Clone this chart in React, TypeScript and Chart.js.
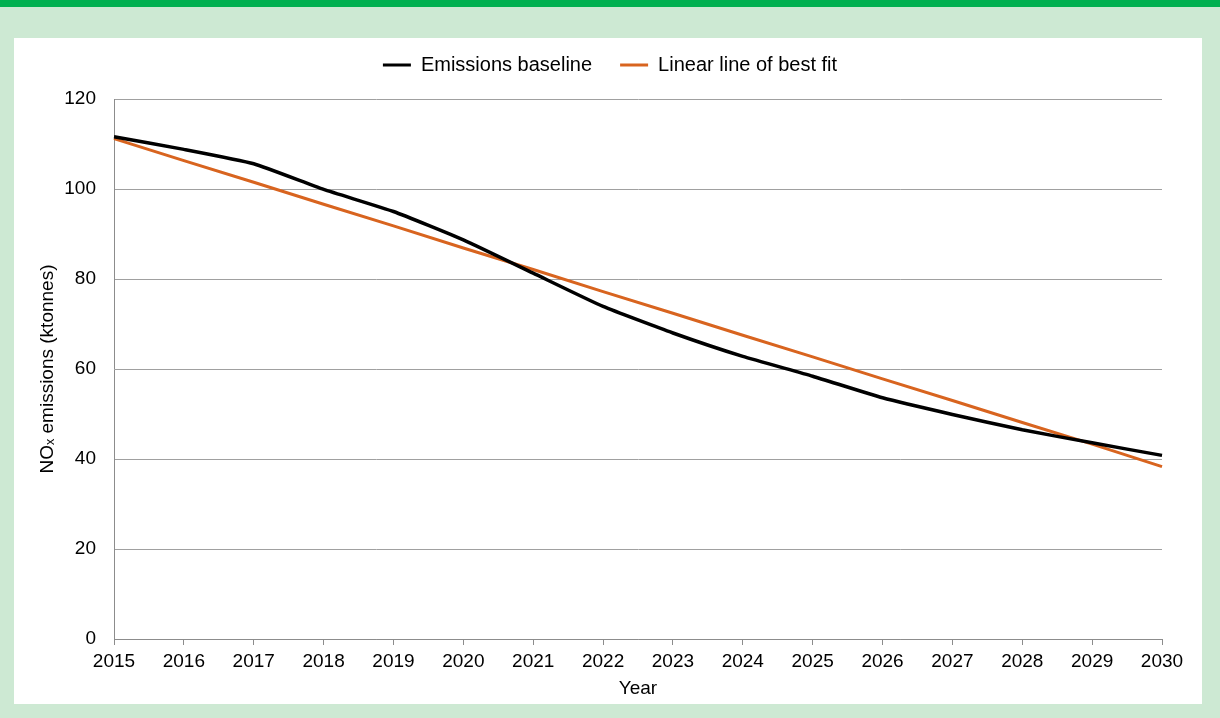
import React, { useEffect, useRef } from "react";
import { Chart, registerables } from "chart.js";

Chart.register(...registerables);

const years = ["2015","2016","2017","2018","2019","2020","2021","2022","2023","2024","2025","2026","2027","2028","2029","2030"];
const baseline = [111.6, 108.8, 105.6, 99.9, 95.0, 88.7, 81.3, 73.9, 68.0, 62.8, 58.4, 53.6, 49.9, 46.5, 43.6, 40.8];
const bestFit = [111.2, 106.3, 101.5, 96.6, 91.8, 86.9, 82.1, 77.2, 72.4, 67.5, 62.7, 57.8, 53.0, 48.1, 43.3, 38.3];
const yTicks = [0, 20, 40, 60, 80, 100, 120];
const seriesNames = ["Emissions baseline", "Linear line of best fit"];
const yTitle = "NOₓ emissions (ktonnes)";
const xTitle = "Year";

const FONT = "'Liberation Sans', Arial, sans-serif";

export default function App() {
  const ref = useRef<HTMLCanvasElement | null>(null);

  useEffect(() => {
    document.body.style.margin = "0";
    const legendGap = {
      id: "legendGap",
      afterInit(chart: any) {
        const lg = chart.legend;
        if (lg && !lg.__patched) {
          const orig = lg.fit;
          lg.fit = function () {
            orig.call(this);
            this.height += 14;
            if (this.lineWidths && this.lineWidths.length) {
              this.lineWidths[0] -= 44;
            }
          };
          lg.__patched = true;
        }
      },
    };
    const chart = new Chart(ref.current as HTMLCanvasElement, {
      type: "line",
      data: {
        labels: years,
        datasets: [
          {
            label: seriesNames[0],
            data: baseline,
            borderColor: "#000000",
            backgroundColor: "#000000",
            borderWidth: 3.5,
            pointRadius: 0,
            tension: 0.15,
          },
          {
            label: seriesNames[1],
            data: bestFit,
            borderColor: "#d8641f",
            backgroundColor: "#d8641f",
            borderWidth: 3,
            pointRadius: 0,
            tension: 0,
          },
        ],
      },
      options: {
        animation: false,
        responsive: false,
        maintainAspectRatio: false,
        layout: { padding: { left: 0, right: 40, top: -11, bottom: 0 } },
        plugins: {
          tooltip: { enabled: false },
          legend: {
            position: "top",
            labels: {
              color: "#000",
              font: { family: FONT, size: 20 },
              boxWidth: 28,
              boxHeight: 3,
              padding: 28,
              generateLabels(ch: any) {
                const items = Chart.defaults.plugins.legend.labels.generateLabels(ch);
                return items.map((it: any) => ({ ...it, lineWidth: 0 }));
              },
            },
          },
        },
        scales: {
          x: {
            type: "category",
            offset: false,
            grid: {
              drawOnChartArea: false,
              drawTicks: true,
              tickLength: 6,
              color: "#8c8c8c",
            },
            border: { display: true, color: "#8c8c8c", width: 1 },
            ticks: {
              color: "#000",
              font: { family: FONT, size: 19 },
              padding: 5,
              maxRotation: 0,
              autoSkip: false,
            },
            title: {
              display: true,
              text: xTitle,
              color: "#000",
              font: { family: FONT, size: 19 },
              padding: { top: 0, bottom: 4 },
            },
            afterFit(scale: any) {
              scale.height = 65;
            },
          },
          y: {
            min: 0,
            max: 120,
            afterBuildTicks(scale: any) {
              scale.ticks = yTicks.map((v) => ({ value: v }));
            },
            grid: {
              color: "#a0a0a0",
              drawTicks: false,
              lineWidth: 1,
            },
            border: { display: true, color: "#8c8c8c", width: 1 },
            ticks: {
              color: "#000",
              font: { family: FONT, size: 19 },
              padding: 18,
            },
            title: {
              display: true,
              text: yTitle,
              color: "#000",
              font: { family: FONT, size: 19 },
              padding: { top: 22, bottom: 0 },
            },
            afterFit(scale: any) {
              scale.width = 100;
            },
          },
        },
      },
      plugins: [legendGap],
    });
    return () => chart.destroy();
  }, []);

  return (
    <div style={{ position: "relative", width: 1220, height: 718, background: "#cde9d3", overflow: "hidden" }}>
      <div style={{ position: "absolute", left: 0, top: 0, width: 1220, height: 7, background: "#00b050" }} />
      <div style={{ position: "absolute", left: 14, top: 38, width: 1188, height: 666, background: "#ffffff" }}>
        <canvas ref={ref} width={1188} height={666} style={{ display: "block" }} />
      </div>
    </div>
  );
}
